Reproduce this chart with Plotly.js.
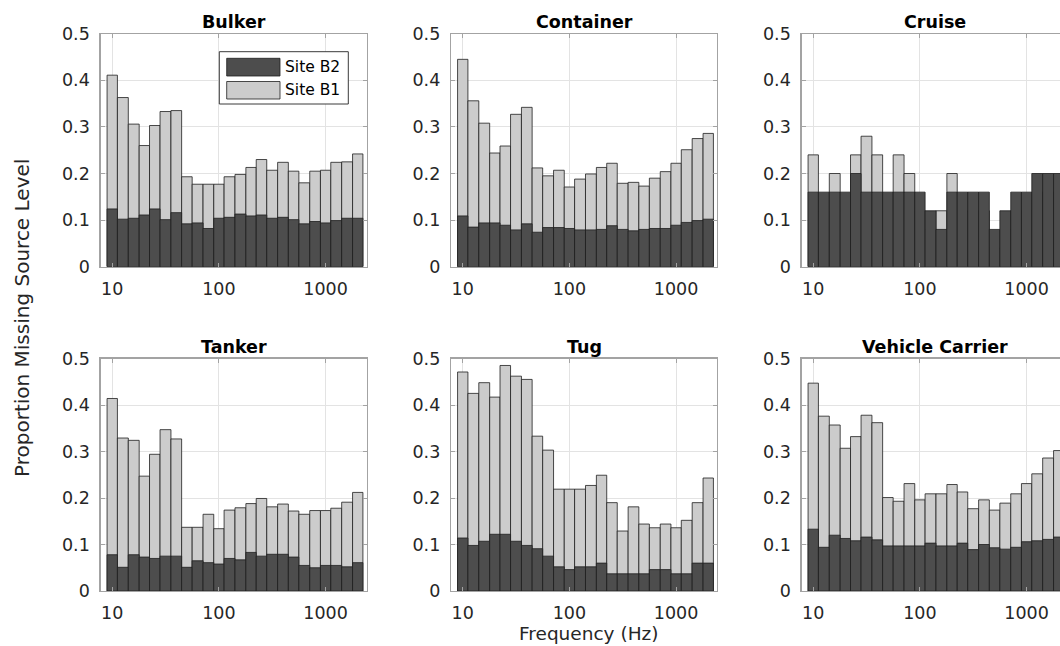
<!DOCTYPE html>
<html><head><meta charset="utf-8">
<script src="https://cdn.plot.ly/plotly-3.0.1.min.js"></script>
<style>html,body{margin:0;padding:0;overflow:hidden;background:#fff;width:1060px;height:646px}#chart{width:1070px;height:646px}</style>
</head><body><div id="chart"></div>
<script>
// ---------- data ----------
const freqs = [10,12.5,16,20,25,31.5,40,50,63,80,100,125,160,200,250,315,400,500,630,800,1000,1250,1600,2000];
const vesselTypes = ['Bulker','Container','Cruise','Tanker','Tug','Vehicle Carrier'];
const seriesNames = ['Site B2','Site B1'];
const xTickVals = [10,100,1000];
const xTickText = ['10','100','1000'];
const yTickVals = [0,0.1,0.2,0.3,0.4,0.5];
const yTickText = ['0','0.1','0.2','0.3','0.4','0.5'];
const xLabel = 'Frequency (Hz)';
const yLabel = 'Proportion Missing Source Level';

const bulkerB2 = [0.124,0.102,0.104,0.111,0.124,0.101,0.116,0.092,0.094,0.082,0.104,0.106,0.113,0.109,0.111,0.104,0.106,0.101,0.092,0.097,0.094,0.099,0.104,0.104];
const bulkerB1 = [0.411,0.363,0.306,0.260,0.303,0.333,0.335,0.193,0.177,0.177,0.177,0.193,0.198,0.213,0.230,0.207,0.224,0.205,0.180,0.205,0.207,0.224,0.225,0.242];

const containerB2 = [0.109,0.085,0.094,0.094,0.089,0.079,0.092,0.074,0.084,0.084,0.082,0.079,0.079,0.080,0.088,0.080,0.077,0.080,0.082,0.082,0.089,0.095,0.099,0.102];
const containerB1 = [0.445,0.356,0.308,0.244,0.259,0.327,0.342,0.212,0.195,0.207,0.171,0.188,0.199,0.213,0.222,0.179,0.181,0.173,0.190,0.204,0.222,0.251,0.275,0.286];

const cruiseB2 = [0.16,0.16,0.16,0.16,0.20,0.16,0.16,0.16,0.16,0.16,0.16,0.12,0.08,0.16,0.16,0.16,0.16,0.08,0.12,0.16,0.16,0.20,0.20,0.20];
const cruiseB1 = [0.24,0.12,0.20,0.12,0.24,0.28,0.24,0.12,0.24,0.20,0.12,0.08,0.12,0.20,0.12,0.12,0.12,0.04,0.08,0.12,0.12,0.16,0.16,0.16];

const tankerB2 = [0.078,0.051,0.078,0.073,0.070,0.075,0.075,0.051,0.065,0.061,0.058,0.070,0.067,0.083,0.075,0.079,0.079,0.073,0.055,0.050,0.055,0.055,0.052,0.061];
const tankerB1 = [0.414,0.329,0.324,0.247,0.294,0.347,0.327,0.137,0.137,0.165,0.134,0.174,0.179,0.188,0.199,0.181,0.187,0.172,0.165,0.173,0.173,0.178,0.191,0.212];

const tugB2 = [0.114,0.098,0.107,0.122,0.122,0.107,0.098,0.091,0.075,0.052,0.046,0.052,0.052,0.060,0.037,0.037,0.037,0.037,0.046,0.046,0.037,0.037,0.060,0.060];
const tugB1 = [0.471,0.425,0.448,0.417,0.485,0.462,0.455,0.333,0.303,0.219,0.219,0.219,0.227,0.249,0.190,0.129,0.181,0.144,0.136,0.144,0.136,0.152,0.190,0.243];

const vehicleB2 = [0.133,0.094,0.120,0.113,0.108,0.116,0.110,0.097,0.097,0.097,0.097,0.103,0.097,0.097,0.103,0.089,0.100,0.093,0.090,0.094,0.106,0.108,0.111,0.116];
const vehicleB1 = [0.447,0.376,0.357,0.307,0.332,0.378,0.362,0.201,0.193,0.231,0.196,0.209,0.209,0.229,0.213,0.177,0.196,0.174,0.189,0.209,0.231,0.252,0.286,0.302];

const siteB2 = [bulkerB2, containerB2, cruiseB2, tankerB2, tugB2, vehicleB2];
const siteB1 = [bulkerB1, containerB1, cruiseB1, tankerB1, tugB1, vehicleB1];

// ---------- layout geometry ----------
const W = 1070, H = 646;
const colPx = [[100.5,366.7],[451,717.2],[801.5,1067.7]];
const rowPx = [[33.7,266.7],[358.5,591]];
const px = v => v / W;
const py = v => 1 - v / H;

// bar band edges (geometric midpoints between band centres)
const lo = [], hi = [];
for (let i = 0; i < freqs.length; i++) {
  const prev = i > 0 ? freqs[i-1] : freqs[0] * freqs[0] / freqs[1];
  const next = i < freqs.length - 1 ? freqs[i+1] : freqs[i] * freqs[i] / freqs[i-1];
  lo.push(Math.sqrt(prev * freqs[i]));
  hi.push(Math.sqrt(next * freqs[i]));
}
const barOffset = freqs.map((f, i) => lo[i] - f);
const barWidth = freqs.map((f, i) => hi[i] - lo[i]);

const darkFill = '#4d4d4d', lightFill = '#cccccc', edge = '#1e1e1e';
const axisCol = '#a3a3a3', gridCol = '#e3e3e3', textCol = '#262626';
const fontFam = 'DejaVu Sans, Arial, sans-serif';

const traces = [];
const layout = {
  width: W, height: H,
  margin: {l: 0, r: 0, t: 0, b: 0},
  paper_bgcolor: '#ffffff', plot_bgcolor: '#ffffff',
  barmode: 'overlay', bargap: 0,
  showlegend: false,
  font: {family: fontFam, color: textCol},
  annotations: [], shapes: []
};

vesselTypes.forEach((name, k) => {
  const r = Math.floor(k / 3), c = k % 3;
  const sfx = k === 0 ? '' : String(k + 1);
  const xa = 'x' + sfx, ya = 'y' + sfx;
  traces.push({
    type: 'bar', name: seriesNames[1], x: freqs, y: siteB1[k],
    width: barWidth, offset: barOffset, xaxis: xa, yaxis: ya,
    marker: {color: lightFill, line: {color: edge, width: 0.8}}
  });
  traces.push({
    type: 'bar', name: seriesNames[0], x: freqs, y: siteB2[k],
    width: barWidth, offset: barOffset, xaxis: xa, yaxis: ya,
    marker: {color: darkFill, line: {color: edge, width: 0.8}}
  });
  layout['xaxis' + sfx] = {
    type: 'log', range: [0.89, 3.385],
    domain: [px(colPx[c][0]), px(colPx[c][1])], anchor: ya,
    tickmode: 'array', tickvals: xTickVals, ticktext: xTickText,
    showgrid: true, gridcolor: gridCol, gridwidth: 1,
    ticks: 'inside', ticklen: 4, tickcolor: axisCol, tickwidth: 1,
    showline: true, linecolor: axisCol, linewidth: 1.2, mirror: 'ticks',
    zeroline: false, ticklabelstandoff: 6,
    tickfont: {family: fontFam, size: 17.5, color: textCol}, fixedrange: true
  };
  layout['yaxis' + sfx] = {
    range: [0, 0.5],
    domain: [py(rowPx[r][1]), py(rowPx[r][0])], anchor: xa,
    tickmode: 'array', tickvals: yTickVals, ticktext: yTickText,
    showgrid: true, gridcolor: gridCol, gridwidth: 1,
    ticks: 'inside', ticklen: 4, tickcolor: axisCol, tickwidth: 1,
    showline: true, linecolor: axisCol, linewidth: 1.2, mirror: 'ticks',
    zeroline: false, ticklabelstandoff: 6,
    tickfont: {family: fontFam, size: 17.5, color: textCol}, fixedrange: true
  };
  layout.annotations.push({
    xref: 'paper', yref: 'paper',
    x: px((colPx[c][0] + colPx[c][1]) / 2), y: py(rowPx[r][0]),
    xanchor: 'center', yanchor: 'bottom', yshift: 0, showarrow: false,
    text: name, font: {family: fontFam, size: 17.5, color: '#000000', weight: 'bold'}
  });
});

// axis labels
layout.annotations.push({
  xref: 'paper', yref: 'paper', x: px(589.5), y: py(633),
  xanchor: 'center', yanchor: 'middle', showarrow: false,
  text: xLabel, font: {family: fontFam, size: 18.5, color: textCol}
});
layout.annotations.push({
  xref: 'paper', yref: 'paper', x: px(22), y: py(318),
  xanchor: 'center', yanchor: 'middle', showarrow: false, textangle: -90,
  text: yLabel, font: {family: fontFam, size: 20, color: textCol}
});

// legend (inside Bulker panel)
layout.shapes.push({type: 'rect', xref: 'paper', yref: 'paper',
  x0: px(219.3), x1: px(348.3), y0: py(104), y1: py(51.7),
  fillcolor: '#ffffff', line: {color: '#3a3a3a', width: 1}, layer: 'above'});
const legFills = [darkFill, lightFill];
const legY = [[58.3, 76], [81.5, 99]];
seriesNames.forEach((s, i) => {
  layout.shapes.push({type: 'rect', xref: 'paper', yref: 'paper',
    x0: px(226.7), x1: px(280), y0: py(legY[i][1]), y1: py(legY[i][0]),
    fillcolor: legFills[i], line: {color: edge, width: 0.8}, layer: 'above'});
  layout.annotations.push({xref: 'paper', yref: 'paper',
    x: px(283), y: py((legY[i][0] + legY[i][1]) / 2),
    xanchor: 'left', yanchor: 'middle', showarrow: false,
    text: s, font: {family: fontFam, size: 15.5, color: '#000000'}});
});

Plotly.newPlot('chart', traces, layout, {staticPlot: true, displayModeBar: false});
</script>
</body></html>
